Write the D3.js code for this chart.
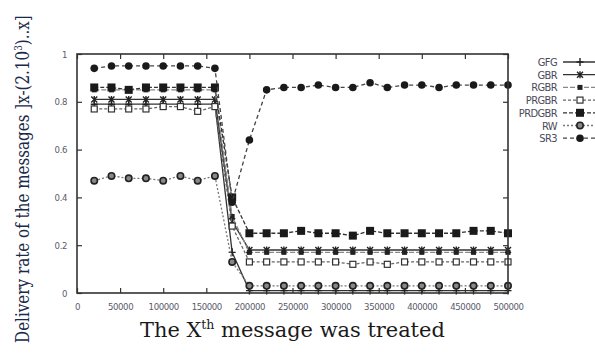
<!DOCTYPE html>
<html>
<head>
<meta charset="utf-8">
<script src="https://cdn.jsdelivr.net/npm/d3@7"></script>
<style>
  html, body { margin: 0; padding: 0; background: #fff; }
  svg { display: block; }
</style>
</head>
<body>
<div id="chart"></div>
<script>
// x positions: the message index where each sample was taken
const xValues = [20000, 40000, 60000, 80000, 100000, 120000, 140000, 160000, 180000, 200000,
  220000, 240000, 260000, 280000, 300000, 320000, 340000, 360000, 380000, 400000,
  420000, 440000, 460000, 480000, 500000];

const gfg    = [0.79, 0.79, 0.79, 0.79, 0.79, 0.79, 0.79, 0.79, 0.17, 0.01,
  0.01, 0.01, 0.01, 0.01, 0.01, 0.01, 0.01, 0.01, 0.01, 0.01, 0.01, 0.01, 0.01, 0.01, 0.01];
const gbr    = [0.81, 0.81, 0.81, 0.81, 0.81, 0.81, 0.81, 0.81, 0.30, 0.18,
  0.18, 0.18, 0.18, 0.18, 0.18, 0.18, 0.18, 0.18, 0.18, 0.18, 0.18, 0.18, 0.18, 0.18, 0.18];
const rgbr   = [0.85, 0.85, 0.85, 0.85, 0.85, 0.85, 0.85, 0.85, 0.32, 0.17,
  0.17, 0.17, 0.17, 0.17, 0.17, 0.17, 0.17, 0.17, 0.17, 0.17, 0.17, 0.17, 0.17, 0.17, 0.17];
const prgbr  = [0.77, 0.77, 0.77, 0.77, 0.78, 0.78, 0.76, 0.78, 0.28, 0.13,
  0.13, 0.13, 0.13, 0.13, 0.13, 0.12, 0.13, 0.12, 0.13, 0.13, 0.13, 0.13, 0.13, 0.13, 0.13];
const prdgbr = [0.86, 0.86, 0.85, 0.86, 0.86, 0.86, 0.86, 0.86, 0.40, 0.25,
  0.25, 0.25, 0.26, 0.25, 0.25, 0.24, 0.26, 0.25, 0.25, 0.25, 0.25, 0.25, 0.26, 0.26, 0.25];
const rw     = [0.47, 0.49, 0.48, 0.48, 0.47, 0.49, 0.47, 0.49, 0.13, 0.03,
  0.03, 0.03, 0.03, 0.03, 0.03, 0.03, 0.03, 0.03, 0.03, 0.03, 0.03, 0.03, 0.03, 0.03, 0.03];
const sr3    = [0.94, 0.95, 0.95, 0.95, 0.95, 0.95, 0.95, 0.94, 0.38, 0.64,
  0.85, 0.86, 0.86, 0.87, 0.86, 0.86, 0.88, 0.86, 0.87, 0.87, 0.86, 0.87, 0.87, 0.87, 0.87];

const seriesNames = ['GFG', 'GBR', 'RGBR', 'PRGBR', 'PRDGBR', 'RW', 'SR3'];
const xTickValues = [0, 50000, 100000, 150000, 200000, 250000, 300000, 350000, 400000, 450000, 500000];
const yTickValues = [0, 0.2, 0.4, 0.6, 0.8, 1];

function createVisualization() {
  const width = 595, height = 354;
  const margin = { left: 77, right: 87, top: 54, bottom: 61 };

  const svg = d3.select('#chart').append('svg')
    .attr('width', width)
    .attr('height', height);

  const x = d3.scaleLinear().domain([0, 500000]).range([margin.left, width - margin.right]);
  const y = d3.scaleLinear().domain([0, 1]).range([height - margin.bottom, margin.top]);

  // styles per series: dash pattern, stroke colour, marker type
  const styles = [
    { data: gfg,    dash: null,  color: '#333', marker: 'plus' },
    { data: gbr,    dash: null,  color: '#333', marker: 'cross' },
    { data: rgbr,   dash: '5,2', color: '#888', marker: 'smallsq' },
    { data: prgbr,  dash: '3,2', color: '#666', marker: 'opensq' },
    { data: prdgbr, dash: '4,2', color: '#333', marker: 'bigsq' },
    { data: rw,     dash: '2,2', color: '#777', marker: 'ring' },
    { data: sr3,    dash: '4,3', color: '#444', marker: 'dot' }
  ];

  function drawMarker(g, type, cx, cy) {
    if (type === 'plus') {
      g.append('path').attr('d', `M${cx - 3.5},${cy}H${cx + 3.5}M${cx},${cy - 4}V${cy + 4}`)
        .attr('stroke', '#222').attr('stroke-width', 1.4);
    } else if (type === 'cross') {
      g.append('path').attr('d', `M${cx - 3},${cy - 3}L${cx + 3},${cy + 3}M${cx - 3},${cy + 3}L${cx + 3},${cy - 3}M${cx},${cy - 3.5}V${cy + 3.5}`)
        .attr('stroke', '#222').attr('stroke-width', 1.4);
    } else if (type === 'smallsq') {
      g.append('rect').attr('x', cx - 2.5).attr('y', cy - 2.5).attr('width', 5).attr('height', 5)
        .attr('fill', '#222');
    } else if (type === 'opensq') {
      g.append('rect').attr('x', cx - 3).attr('y', cy - 3).attr('width', 6).attr('height', 6)
        .attr('fill', '#fff').attr('stroke', '#333').attr('stroke-width', 1.2);
    } else if (type === 'bigsq') {
      g.append('rect').attr('x', cx - 4).attr('y', cy - 4).attr('width', 8).attr('height', 8)
        .attr('fill', '#1a1a1a');
    } else if (type === 'ring') {
      g.append('circle').attr('cx', cx).attr('cy', cy).attr('r', 3.2)
        .attr('fill', '#888').attr('stroke', '#222').attr('stroke-width', 1.6);
    } else {
      g.append('circle').attr('cx', cx).attr('cy', cy).attr('r', 3.8).attr('fill', '#1a1a1a');
    }
  }

  const line = d3.line().x((d, i) => x(xValues[i])).y(d => y(d));

  // series lines and markers
  styles.forEach(s => {
    svg.append('path')
      .datum(s.data)
      .attr('d', line)
      .attr('fill', 'none')
      .attr('stroke', s.color)
      .attr('stroke-width', 1.3)
      .attr('stroke-dasharray', s.dash);
    const g = svg.append('g');
    s.data.forEach((v, i) => drawMarker(g, s.marker, x(xValues[i]), y(v)));
  });

  // frame and inward ticks (gnuplot style, mirrored)
  svg.append('rect')
    .attr('x', margin.left).attr('y', margin.top)
    .attr('width', width - margin.left - margin.right)
    .attr('height', height - margin.top - margin.bottom)
    .attr('fill', 'none')
    .attr('stroke', '#333').attr('stroke-width', 1.6);

  const tickFont = '"DejaVu Sans Condensed", "Liberation Sans Narrow", sans-serif';

  const xAxisB = d3.axisBottom(x).tickValues(xTickValues).tickSizeInner(-5).tickSizeOuter(0).tickPadding(10).tickFormat(d3.format('d'));
  const xAxisT = d3.axisTop(x).tickValues(xTickValues).tickSizeInner(-5).tickSizeOuter(0).tickFormat('');
  const yAxisL = d3.axisLeft(y).tickValues(yTickValues).tickSizeInner(-5).tickSizeOuter(0).tickPadding(10).tickFormat(d => d === 0 || d === 1 ? d : d.toFixed(1));
  const yAxisR = d3.axisRight(y).tickValues(yTickValues).tickSizeInner(-5).tickSizeOuter(0).tickFormat('');

  function styleAxis(g) {
    g.select('.domain').remove();
    g.selectAll('.tick line').attr('stroke', '#333').attr('stroke-width', 1.2);
    g.selectAll('.tick text')
      .attr('fill', '#5a5a6a')
      .style('font-family', tickFont)
      .style('font-size', '9.5px')
      .style('letter-spacing', '-0.4px');
  }

  svg.append('g').attr('transform', `translate(0,${height - margin.bottom})`).call(xAxisB).call(styleAxis);
  svg.append('g').attr('transform', `translate(0,${margin.top})`).call(xAxisT).call(styleAxis);
  svg.append('g').attr('transform', `translate(${margin.left},0)`).call(yAxisL).call(styleAxis);
  svg.append('g').attr('transform', `translate(${width - margin.right},0)`).call(yAxisR).call(styleAxis);

  // legend
  const legend = svg.append('g').attr('transform', 'translate(557,62)');
  styles.forEach((s, i) => {
    const row = legend.append('g').attr('transform', `translate(0,${i * 12.7})`);
    row.append('text')
      .attr('x', 0).attr('y', 4)
      .attr('text-anchor', 'end')
      .attr('fill', '#4a4a5a')
      .style('font-family', tickFont)
      .style('font-size', '11px')
      .style('letter-spacing', '-0.6px')
      .text(seriesNames[i]);
    row.append('line')
      .attr('x1', 6).attr('x2', 40).attr('y1', 0).attr('y2', 0)
      .attr('stroke', s.color).attr('stroke-width', 1.3)
      .attr('stroke-dasharray', s.dash);
    drawMarker(row, s.marker, 23, 0);
  });

  // axis titles: squeezed horizontally so they span the same length as in the reference
  const serif = '"DejaVu Serif", serif';
  const xt = svg.append('text')
    .attr('fill', '#1a1a1a')
    .style('font-family', serif)
    .style('font-size', '20px');
  xt.append('tspan').text('The X');
  xt.append('tspan').attr('dy', -8).style('font-size', '12px').text('th');
  xt.append('tspan').attr('dy', 8).text(' message was treated');
  const xtLen = xt.node().getComputedTextLength();
  xt.attr('transform', `translate(140,337) scale(${305 / xtLen},1)`);

  const yt = svg.append('text')
    .attr('fill', '#1a2a4a')
    .style('font-family', serif)
    .style('font-size', '19px');
  yt.append('tspan').text('Delivery rate of the messages ]x-(2.10');
  yt.append('tspan').attr('dy', -7).style('font-size', '11px').text('3');
  yt.append('tspan').attr('dy', 7).text(')..x]');
  const ytLen = yt.node().getComputedTextLength();
  yt.attr('transform', `translate(29,343) rotate(-90) scale(${328 / ytLen},1)`);
}

createVisualization();
</script>
</body>
</html>
